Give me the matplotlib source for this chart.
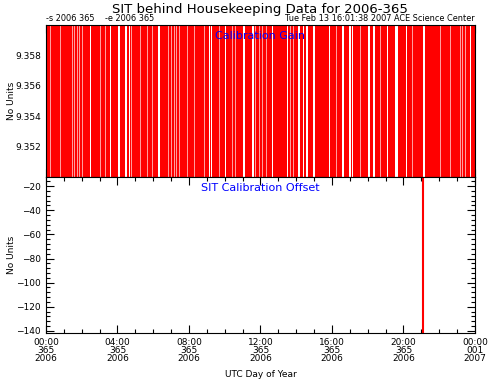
import matplotlib
matplotlib.use("Agg")
from matplotlib import pyplot as plt
import numpy as np

# time axis, hours of 2006-365
hour_ticks = [0, 4, 8, 12, 16, 20, 24]
hour_labels = ["00:00\n365\n2006", "04:00\n365\n2006", "08:00\n365\n2006",
               "12:00\n365\n2006", "16:00\n365\n2006", "20:00\n365\n2006",
               "00:00\n001\n2007"]

# calibration gain: data coverage and drop-outs (hours)
gain_coverage = [(0.0, 24.0)]
gap_start = [0.22, 0.78, 1.44, 1.58, 1.72, 1.86, 2.00, 2.46, 2.83, 3.00,
             3.30, 3.58, 4.05, 4.42, 4.62, 4.78, 5.26, 5.63, 5.95, 6.28,
             6.82, 6.98, 7.14, 7.30, 7.46, 7.87, 8.30, 8.86, 9.10, 9.22,
             9.70, 10.01, 10.40, 10.60, 11.04, 11.51, 11.70, 11.90, 12.10,
             12.30, 12.63, 12.90, 13.47, 13.65, 13.80, 14.12, 14.35, 14.55,
             14.95, 15.85, 16.25, 16.55, 16.95, 17.10, 17.55, 18.03, 18.31,
             18.70, 19.06, 19.52, 20.12, 20.48, 21.11, 21.40, 22.05, 22.60,
             23.15, 23.30, 23.45, 23.72]
gap_width = [0.05, 0.05, 0.05, 0.05, 0.05, 0.05, 0.05, 0.07, 0.05, 0.05,
             0.05, 0.07, 0.10, 0.10, 0.06, 0.05, 0.05, 0.05, 0.05, 0.07,
             0.05, 0.05, 0.05, 0.05, 0.05, 0.05, 0.05, 0.05, 0.07, 0.06,
             0.05, 0.07, 0.05, 0.05, 0.08, 0.10, 0.05, 0.05, 0.05,
             0.05, 0.08, 0.05, 0.08, 0.05, 0.05, 0.10, 0.08, 0.08,
             0.10, 0.06, 0.05, 0.14, 0.12, 0.08, 0.05, 0.08, 0.08,
             0.05, 0.08, 0.16, 0.08, 0.05, 0.08, 0.05, 0.05, 0.05,
             0.05, 0.05, 0.05, 0.08]
gap_shade = ["p", "p", "p", "p", "p", "p", "p", "w", "p", "p",
             "p", "w", "w", "w", "w", "p", "p", "p", "p", "w",
             "p", "p", "p", "p", "p", "p", "p", "p", "w", "w",
             "p", "w", "p", "p", "w", "w", "p", "p", "p",
             "p", "w", "p", "w", "p", "p", "w", "w", "w",
             "w", "w", "p", "w", "w", "w", "p", "w", "w",
             "p", "w", "w", "w", "p", "w", "p", "p", "p",
             "p", "p", "p", "w"]

# calibration offset: single excursion
offset_time = [21.07, 21.07]
offset_value = [-5.0, -150.0]

plt.rcParams["font.family"] = "DejaVu Sans"
fig = plt.figure(figsize=(4.89, 3.82), dpi=100)
ax1 = fig.add_axes([46 / 489, 1 - 177 / 382, 429 / 489, 152 / 382])
ax2 = fig.add_axes([46 / 489, 1 - 333 / 382, 429 / 489, 156 / 382])

red = "#ff0000"
for a, b in gain_coverage:
    ax1.axvspan(a, b, color=red, lw=0)
for s, w, c in zip(gap_start, gap_width, gap_shade):
    ax1.axvspan(s, s + w, color="white" if c == "w" else "#ff9c9c", lw=0)
ax1.set_axisbelow(True)
ax1.set_ylim(9.350, 9.360)
ax1.set_yticks([9.352, 9.354, 9.356, 9.358])
ax1.set_yticklabels(["9.352", "9.354", "9.356", "9.358"])
ax1.text(0.5, 0.93, "Calibration Gain", color="blue", fontsize=8,
         ha="center", va="center", transform=ax1.transAxes)
ax1.text(0.0, 1.01, "-s 2006 365    -e 2006 365", fontsize=5.9,
         ha="left", va="bottom", transform=ax1.transAxes)
ax1.text(1.0, 1.01, "Tue Feb 13 16:01:38 2007 ACE Science Center",
         fontsize=5.9, ha="right", va="bottom", transform=ax1.transAxes)

ax2.plot(offset_time, offset_value, color=red, lw=1.5)
ax2.set_ylim(-141.7, -12.5)
ax2.set_yticks([-20, -40, -60, -80, -100, -120, -140])
ax2.set_yticks(np.arange(-140, -12, 4), minor=True)
ax2.text(0.5, 0.93, "SIT Calibration Offset", color="blue", fontsize=8,
         ha="center", va="center", transform=ax2.transAxes)

for ax in (ax1, ax2):
    ax.set_xlim(0, 24)
    ax.set_xticks(hour_ticks)
    ax.set_xticks(range(0, 25), minor=True)
    ax.tick_params(which="major", direction="in", length=6, width=0.8,
                   top=True, right=True, labelsize=6.5)
    ax.tick_params(which="minor", direction="in", length=3, width=0.8,
                   top=True, right=True)
    ax.set_ylabel("No Units", fontsize=6.5)
    for sp in ax.spines.values():
        sp.set_linewidth(0.8)
ax1.set_xticklabels([])
ax2.set_xticklabels(hour_labels, linespacing=0.85, fontsize=6.5)
ax1.yaxis.set_label_coords(-0.07, 0.5)
ax2.yaxis.set_label_coords(-0.07, 0.5)
ax2.set_xlabel("UTC Day of Year", fontsize=6.5, labelpad=5)

fig.text(0.532, 1 - 9 / 382, "SIT behind Housekeeping Data for 2006-365",
         ha="center", va="center", fontsize=9.5)

fig.savefig("out.png", dpi=100)
